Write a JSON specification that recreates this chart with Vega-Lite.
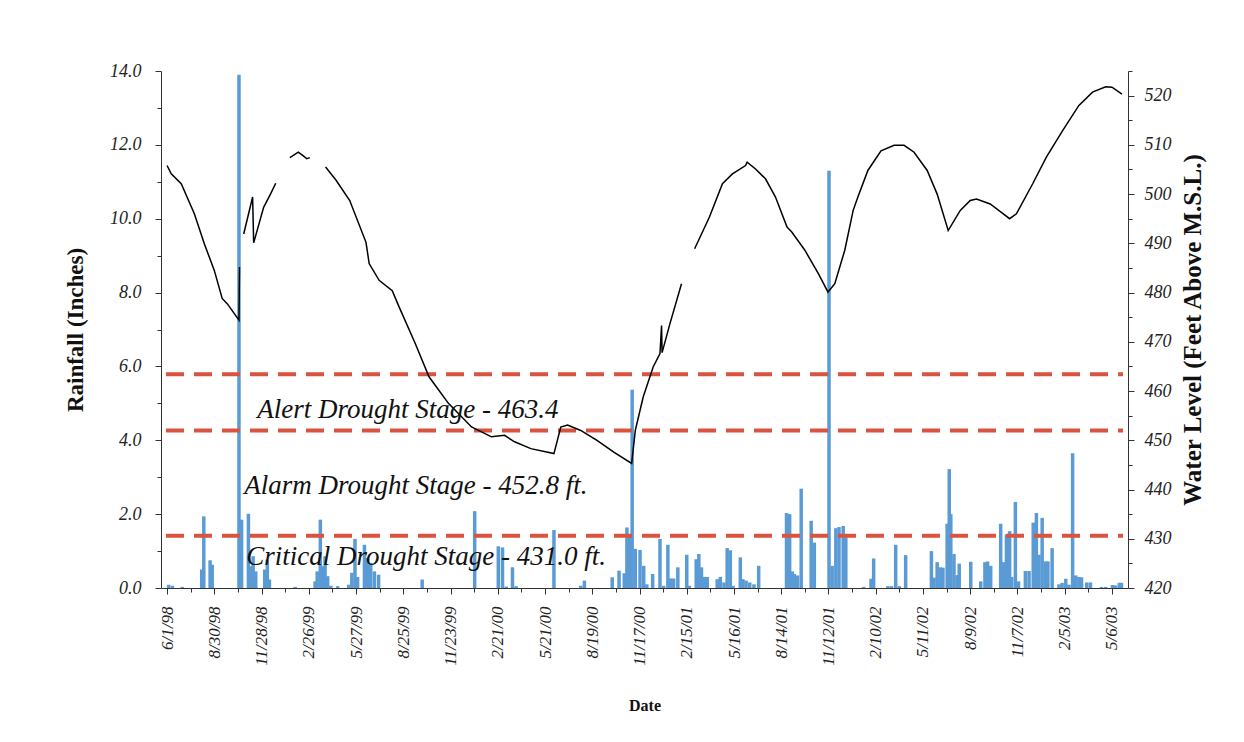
{
  "$schema": "https://vega.github.io/schema/vega-lite/v6.json",
  "width": 967,
  "height": 517,
  "autosize": "none",
  "padding": {"left": 161, "top": 71, "right": 116, "bottom": 154},
  "background": "white",
  "config": {
    "view": {"stroke": null},
    "font": "Liberation Serif",
    "axis": {
      "grid": false,
      "domain": true,
      "ticks": true,
      "labelFont": "Liberation Serif",
      "labelFontStyle": "italic",
      "labelFontSize": 18,
      "labelColor": "#222222",
      "titleFont": "Liberation Serif",
      "titleFontWeight": "bold",
      "titleColor": "#111111",
      "domainColor": "#333333",
      "tickColor": "#333333",
      "domainWidth": 1,
      "tickWidth": 1
    }
  },
  "datasets": {
    "rain": [
      {"date": "1998-06-04", "rain": 0.09}, {"date": "1998-06-11", "rain": 0.06}, {"date": "1998-06-30", "rain": 0.03},
      {"date": "1998-08-06", "rain": 0.5}, {"date": "1998-08-10", "rain": 1.94}, {"date": "1998-08-22", "rain": 0.75}, {"date": "1998-08-26", "rain": 0.63},
      {"date": "1998-10-16", "rain": 13.9}, {"date": "1998-10-21", "rain": 1.85}, {"date": "1998-11-03", "rain": 2.01}, {"date": "1998-11-07", "rain": 0.59}, {"date": "1998-11-12", "rain": 0.86}, {"date": "1998-11-17", "rain": 0.45},
      {"date": "1998-12-04", "rain": 0.5}, {"date": "1998-12-09", "rain": 0.77}, {"date": "1998-12-13", "rain": 0.23},
      {"date": "1999-01-31", "rain": 0.03},
      {"date": "1999-03-10", "rain": 0.18}, {"date": "1999-03-14", "rain": 0.45}, {"date": "1999-03-20", "rain": 1.85}, {"date": "1999-03-25", "rain": 0.59}, {"date": "1999-03-29", "rain": 0.86}, {"date": "1999-04-03", "rain": 0.32}, {"date": "1999-04-09", "rain": 0.06}, {"date": "1999-04-22", "rain": 0.05},
      {"date": "1999-05-13", "rain": 0.09}, {"date": "1999-05-19", "rain": 0.41}, {"date": "1999-05-25", "rain": 1.33}, {"date": "1999-05-30", "rain": 0.3}, {"date": "1999-06-12", "rain": 1.17}, {"date": "1999-06-18", "rain": 0.81}, {"date": "1999-06-24", "rain": 0.68}, {"date": "1999-07-01", "rain": 0.45}, {"date": "1999-07-09", "rain": 0.36},
      {"date": "1999-09-30", "rain": 0.23},
      {"date": "2000-01-08", "rain": 2.08},
      {"date": "2000-02-22", "rain": 1.13}, {"date": "2000-03-01", "rain": 1.1}, {"date": "2000-03-08", "rain": 0.04}, {"date": "2000-03-20", "rain": 0.56}, {"date": "2000-03-27", "rain": 0.05},
      {"date": "2000-06-07", "rain": 1.57},
      {"date": "2000-07-28", "rain": 0.06}, {"date": "2000-08-04", "rain": 0.2},
      {"date": "2000-09-26", "rain": 0.29}, {"date": "2000-10-09", "rain": 0.47}, {"date": "2000-10-19", "rain": 0.4}, {"date": "2000-10-24", "rain": 1.64}, {"date": "2000-10-29", "rain": 1.4}, {"date": "2000-11-03", "rain": 5.37}, {"date": "2000-11-09", "rain": 1.06}, {"date": "2000-11-18", "rain": 1.03}, {"date": "2000-11-25", "rain": 0.6}, {"date": "2000-12-01", "rain": 0.1},
      {"date": "2000-12-12", "rain": 0.38}, {"date": "2000-12-26", "rain": 1.33}, {"date": "2001-01-02", "rain": 0.06}, {"date": "2001-01-10", "rain": 1.17}, {"date": "2001-01-15", "rain": 0.26}, {"date": "2001-01-21", "rain": 0.26}, {"date": "2001-01-29", "rain": 0.56},
      {"date": "2001-02-15", "rain": 0.9}, {"date": "2001-02-20", "rain": 0.06}, {"date": "2001-03-05", "rain": 0.78}, {"date": "2001-03-10", "rain": 0.92}, {"date": "2001-03-15", "rain": 0.56}, {"date": "2001-03-21", "rain": 0.3}, {"date": "2001-03-26", "rain": 0.3},
      {"date": "2001-04-14", "rain": 0.24}, {"date": "2001-04-20", "rain": 0.3}, {"date": "2001-04-27", "rain": 0.15}, {"date": "2001-05-03", "rain": 1.08}, {"date": "2001-05-09", "rain": 1.02}, {"date": "2001-05-14", "rain": 0.06},
      {"date": "2001-05-28", "rain": 0.83}, {"date": "2001-06-02", "rain": 0.24}, {"date": "2001-06-08", "rain": 0.2}, {"date": "2001-06-15", "rain": 0.15}, {"date": "2001-06-23", "rain": 0.1}, {"date": "2001-07-02", "rain": 0.6},
      {"date": "2001-08-24", "rain": 2.03}, {"date": "2001-08-30", "rain": 2.0}, {"date": "2001-09-04", "rain": 0.45}, {"date": "2001-09-08", "rain": 0.38}, {"date": "2001-09-14", "rain": 0.34}, {"date": "2001-09-21", "rain": 2.69}, {"date": "2001-10-10", "rain": 1.82}, {"date": "2001-10-16", "rain": 1.23},
      {"date": "2001-11-13", "rain": 11.3}, {"date": "2001-11-19", "rain": 0.6}, {"date": "2001-11-26", "rain": 1.62}, {"date": "2001-12-02", "rain": 1.65}, {"date": "2001-12-10", "rain": 1.68}, {"date": "2001-12-15", "rain": 1.37},
      {"date": "2002-01-18", "rain": 0.03}, {"date": "2002-02-01", "rain": 0.25}, {"date": "2002-02-06", "rain": 0.8}, {"date": "2002-03-05", "rain": 0.05}, {"date": "2002-03-12", "rain": 0.05}, {"date": "2002-03-20", "rain": 1.17}, {"date": "2002-03-27", "rain": 0.05}, {"date": "2002-04-08", "rain": 0.89},
      {"date": "2002-05-27", "rain": 1.0}, {"date": "2002-06-01", "rain": 0.28}, {"date": "2002-06-07", "rain": 0.7}, {"date": "2002-06-13", "rain": 0.56}, {"date": "2002-06-18", "rain": 0.55}, {"date": "2002-06-26", "rain": 1.74}, {"date": "2002-06-30", "rain": 3.22}, {"date": "2002-07-03", "rain": 2.0}, {"date": "2002-07-09", "rain": 0.92}, {"date": "2002-07-15", "rain": 0.35}, {"date": "2002-07-19", "rain": 0.66},
      {"date": "2002-08-10", "rain": 0.71}, {"date": "2002-08-29", "rain": 0.18}, {"date": "2002-09-06", "rain": 0.7}, {"date": "2002-09-11", "rain": 0.72}, {"date": "2002-09-17", "rain": 0.6},
      {"date": "2002-10-06", "rain": 1.74}, {"date": "2002-10-11", "rain": 0.7}, {"date": "2002-10-17", "rain": 1.45}, {"date": "2002-10-23", "rain": 1.54}, {"date": "2002-10-27", "rain": 0.3}, {"date": "2002-11-03", "rain": 2.33}, {"date": "2002-11-09", "rain": 0.18},
      {"date": "2002-11-22", "rain": 0.46}, {"date": "2002-11-29", "rain": 0.46}, {"date": "2002-12-07", "rain": 1.77}, {"date": "2002-12-13", "rain": 2.03}, {"date": "2002-12-18", "rain": 0.9}, {"date": "2002-12-24", "rain": 1.9}, {"date": "2002-12-30", "rain": 0.72}, {"date": "2003-01-04", "rain": 0.72}, {"date": "2003-01-12", "rain": 1.08},
      {"date": "2003-01-25", "rain": 0.1}, {"date": "2003-01-31", "rain": 0.14}, {"date": "2003-02-07", "rain": 0.25}, {"date": "2003-02-13", "rain": 0.09}, {"date": "2003-02-20", "rain": 3.65}, {"date": "2003-02-26", "rain": 0.34}, {"date": "2003-03-04", "rain": 0.3}, {"date": "2003-03-09", "rain": 0.29},
      {"date": "2003-03-19", "rain": 0.15}, {"date": "2003-03-26", "rain": 0.15}, {"date": "2003-04-16", "rain": 0.03}, {"date": "2003-04-24", "rain": 0.03}, {"date": "2003-05-07", "rain": 0.08}, {"date": "2003-05-13", "rain": 0.07}, {"date": "2003-05-20", "rain": 0.14}, {"date": "2003-05-24", "rain": 0.14}
    ],
    "level": [
      {"seg": 1, "date": "1998-06-01", "level": 505.8}, {"seg": 1, "date": "1998-06-09", "level": 504.1}, {"seg": 1, "date": "1998-06-28", "level": 502.1}, {"seg": 1, "date": "1998-07-23", "level": 496.0}, {"seg": 1, "date": "1998-08-11", "level": 489.9}, {"seg": 1, "date": "1998-08-30", "level": 484.5}, {"seg": 1, "date": "1998-09-14", "level": 478.8}, {"seg": 1, "date": "1998-09-24", "level": 477.7}, {"seg": 1, "date": "1998-10-16", "level": 474.4}, {"seg": 1, "date": "1998-10-17", "level": 485.2},
      {"seg": 2, "date": "1998-10-25", "level": 491.9}, {"seg": 2, "date": "1998-11-11", "level": 499.4}, {"seg": 2, "date": "1998-11-13", "level": 490.1}, {"seg": 2, "date": "1998-12-02", "level": 497.3}, {"seg": 2, "date": "1998-12-15", "level": 500.0}, {"seg": 2, "date": "1998-12-25", "level": 502.2},
      {"seg": 3, "date": "1999-01-21", "level": 507.4}, {"seg": 3, "date": "1999-02-06", "level": 508.5}, {"seg": 3, "date": "1999-02-15", "level": 507.8}, {"seg": 3, "date": "1999-02-22", "level": 507.2}, {"seg": 3, "date": "1999-02-28", "level": 507.4},
      {"seg": 4, "date": "1999-03-30", "level": 505.5}, {"seg": 4, "date": "1999-04-19", "level": 502.8}, {"seg": 4, "date": "1999-05-15", "level": 498.7}, {"seg": 4, "date": "1999-06-15", "level": 490.2}, {"seg": 4, "date": "1999-06-21", "level": 485.9}, {"seg": 4, "date": "1999-07-10", "level": 482.5}, {"seg": 4, "date": "1999-08-04", "level": 480.4}, {"seg": 4, "date": "1999-08-17", "level": 477.1}, {"seg": 4, "date": "1999-09-17", "level": 469.6}, {"seg": 4, "date": "1999-10-13", "level": 462.9}, {"seg": 4, "date": "1999-11-19", "level": 457.5}, {"seg": 4, "date": "2000-01-02", "level": 452.7}, {"seg": 4, "date": "2000-02-09", "level": 450.7}, {"seg": 4, "date": "2000-03-05", "level": 451.0}, {"seg": 4, "date": "2000-03-24", "level": 449.7}, {"seg": 4, "date": "2000-04-24", "level": 448.3}, {"seg": 4, "date": "2000-06-07", "level": 447.3}, {"seg": 4, "date": "2000-06-20", "level": 452.7}, {"seg": 4, "date": "2000-07-03", "level": 453.1}, {"seg": 4, "date": "2000-07-28", "level": 452.0}, {"seg": 4, "date": "2000-08-28", "level": 450.0}, {"seg": 4, "date": "2000-09-29", "level": 447.6}, {"seg": 4, "date": "2000-11-02", "level": 445.3}, {"seg": 4, "date": "2000-11-09", "level": 452.0}, {"seg": 4, "date": "2000-11-24", "level": 458.8}, {"seg": 4, "date": "2000-12-13", "level": 464.9}, {"seg": 4, "date": "2000-12-26", "level": 467.6}, {"seg": 4, "date": "2000-12-29", "level": 473.3}, {"seg": 4, "date": "2000-12-30", "level": 467.8}, {"seg": 4, "date": "2001-01-14", "level": 473.7}, {"seg": 4, "date": "2001-02-05", "level": 481.8},
      {"seg": 5, "date": "2001-03-02", "level": 488.9}, {"seg": 5, "date": "2001-03-30", "level": 495.3}, {"seg": 5, "date": "2001-04-24", "level": 502.1}, {"seg": 5, "date": "2001-05-13", "level": 504.1}, {"seg": 5, "date": "2001-06-07", "level": 505.8}, {"seg": 5, "date": "2001-06-10", "level": 506.5}, {"seg": 5, "date": "2001-06-26", "level": 505.1}, {"seg": 5, "date": "2001-07-15", "level": 503.1}, {"seg": 5, "date": "2001-08-03", "level": 499.4}, {"seg": 5, "date": "2001-08-25", "level": 493.3}, {"seg": 5, "date": "2001-09-03", "level": 492.3}, {"seg": 5, "date": "2001-09-28", "level": 488.6}, {"seg": 5, "date": "2001-10-24", "level": 483.8}, {"seg": 5, "date": "2001-11-11", "level": 480.1}, {"seg": 5, "date": "2001-11-24", "level": 481.8}, {"seg": 5, "date": "2001-12-13", "level": 488.6}, {"seg": 5, "date": "2001-12-29", "level": 496.7}, {"seg": 5, "date": "2002-01-07", "level": 499.4}, {"seg": 5, "date": "2002-01-26", "level": 504.8}, {"seg": 5, "date": "2002-02-20", "level": 508.8}, {"seg": 5, "date": "2002-03-17", "level": 509.9}, {"seg": 5, "date": "2002-04-05", "level": 509.9}, {"seg": 5, "date": "2002-04-24", "level": 508.5}, {"seg": 5, "date": "2002-05-19", "level": 504.8}, {"seg": 5, "date": "2002-06-07", "level": 500.0}, {"seg": 5, "date": "2002-06-28", "level": 492.6}, {"seg": 5, "date": "2002-07-21", "level": 496.7}, {"seg": 5, "date": "2002-08-09", "level": 498.7}, {"seg": 5, "date": "2002-08-21", "level": 499.0}, {"seg": 5, "date": "2002-09-16", "level": 498.0}, {"seg": 5, "date": "2002-10-11", "level": 496.0}, {"seg": 5, "date": "2002-10-23", "level": 495.0}, {"seg": 5, "date": "2002-11-05", "level": 496.0}, {"seg": 5, "date": "2002-12-06", "level": 502.1}, {"seg": 5, "date": "2003-01-01", "level": 507.5}, {"seg": 5, "date": "2003-02-01", "level": 512.9}, {"seg": 5, "date": "2003-03-04", "level": 518.0}, {"seg": 5, "date": "2003-03-30", "level": 520.7}, {"seg": 5, "date": "2003-04-24", "level": 521.8}, {"seg": 5, "date": "2003-05-06", "level": 521.7}, {"seg": 5, "date": "2003-05-25", "level": 520.3}
    ],
    "stages": [
      {"date": "1998-05-30", "date2": "2003-05-27", "level": 463.4},
      {"date": "1998-05-30", "date2": "2003-05-27", "level": 452.0},
      {"date": "1998-05-30", "date2": "2003-05-27", "level": 430.6}
    ],
    "labels": [
      {"date": "1998-11-20", "level": 454.5, "text": "Alert Drought Stage - 463.4"},
      {"date": "1998-10-26", "level": 439.1, "text": "Alarm Drought Stage - 452.8 ft."},
      {"date": "1998-10-30", "level": 424.7, "text": "Critical Drought Stage - 431.0 ft."}
    ]
  },
  "layer": [
    {
      "data": {"name": "rain"},
      "mark": {"type": "bar", "width": 3.5, "color": "#5b9bd5"},
      "encoding": {
        "x": {
          "field": "date", "type": "temporal",
          "scale": {"type": "utc", "nice": false, "domain": [{"year": 1998, "month": 5, "date": 30, "utc": true}, {"year": 2003, "month": 5, "date": 27, "utc": true}]},
          "axis": {
            "title": "Date",
            "titleFontSize": 16,
            "titlePadding": 32,
            "labelAngle": 270,
            "labelPadding": 12,
            "labelOverlap": false,
            "labelFontSize": 17,
            "values": [896659200000, 900547200000, 904435200000, 908323200000, 912211200000, 916099200000, 919987200000, 923875200000, 927763200000, 931651200000, 935539200000, 939427200000, 943315200000, 947203200000, 951091200000, 954979200000, 958867200000, 962755200000, 966643200000, 970531200000, 974419200000, 978307200000, 982195200000, 986083200000, 989971200000, 993859200000, 997747200000, 1001635200000, 1005523200000, 1009411200000, 1013299200000, 1017187200000, 1021075200000, 1024963200000, 1028851200000, 1032739200000, 1036627200000, 1040515200000, 1044403200000, 1048291200000, 1052179200000],
            "labelExpr": "(round((+datum.value - 896659200000) / 86400000) % 90 === 0) ? utcFormat(datum.value, '%-m/%-d/%y') : ''",
            "tickSize": {"condition": {"test": "round((+datum.value - 896659200000) / 86400000) % 90 === 0", "value": 6}, "value": 4}
          }
        },
        "y": {
          "field": "rain", "type": "quantitative",
          "scale": {"domain": [0, 14], "nice": false, "zero": true},
          "axis": {
            "title": "Rainfall (Inches)",
            "titleFontSize": 23,
            "titlePadding": 22,
            "format": ".1f",
            "values": [0, 1, 2, 3, 4, 5, 6, 7, 8, 9, 10, 11, 12, 13, 14],
            "labelExpr": "datum.value % 2 === 0 ? datum.label : ''",
            "labelPadding": 14,
            "tickSize": {"condition": {"test": "datum.value % 2 === 0", "value": 6}, "value": 4}
          }
        }
      }
    },
    {
      "encoding": {
        "x": {
          "field": "date", "type": "temporal",
          "scale": {"type": "utc", "nice": false, "domain": [{"year": 1998, "month": 5, "date": 30, "utc": true}, {"year": 2003, "month": 5, "date": 27, "utc": true}]},
          "axis": {
            "title": "Date",
            "titleFontSize": 16,
            "titlePadding": 32,
            "labelAngle": 270,
            "labelPadding": 12,
            "labelOverlap": false,
            "labelFontSize": 17,
            "values": [896659200000, 900547200000, 904435200000, 908323200000, 912211200000, 916099200000, 919987200000, 923875200000, 927763200000, 931651200000, 935539200000, 939427200000, 943315200000, 947203200000, 951091200000, 954979200000, 958867200000, 962755200000, 966643200000, 970531200000, 974419200000, 978307200000, 982195200000, 986083200000, 989971200000, 993859200000, 997747200000, 1001635200000, 1005523200000, 1009411200000, 1013299200000, 1017187200000, 1021075200000, 1024963200000, 1028851200000, 1032739200000, 1036627200000, 1040515200000, 1044403200000, 1048291200000, 1052179200000],
            "labelExpr": "(round((+datum.value - 896659200000) / 86400000) % 90 === 0) ? utcFormat(datum.value, '%-m/%-d/%y') : ''",
            "tickSize": {"condition": {"test": "round((+datum.value - 896659200000) / 86400000) % 90 === 0", "value": 6}, "value": 4}
          }
        },
        "y": {
          "field": "level", "type": "quantitative",
          "scale": {"domain": [420, 525], "nice": false, "zero": false},
          "axis": {
            "orient": "right",
            "title": "Water Level (Feet Above M.S.L.)",
            "titleAngle": 270,
            "titleFontSize": 25,
            "titlePadding": 34,
            "values": [420, 425, 430, 435, 440, 445, 450, 455, 460, 465, 470, 475, 480, 485, 490, 495, 500, 505, 510, 515, 520, 525],
            "labelExpr": "datum.value % 10 === 0 ? datum.label : ''",
            "labelPadding": 10,
            "tickSize": {"condition": {"test": "datum.value % 10 === 0", "value": 6}, "value": 4}
          }
        }
      },
      "layer": [
        {
          "data": {"name": "stages"},
          "mark": {"type": "rule", "color": "#d9533e", "strokeWidth": 4, "strokeDash": [18, 10]},
          "encoding": {
            "x2": {"field": "date2"}
          }
        },
        {
          "data": {"name": "level"},
          "mark": {"type": "line", "color": "#000000", "strokeWidth": 1.5},
          "encoding": {
            "detail": {"field": "seg", "type": "nominal"}
          }
        },
        {
          "data": {"name": "labels"},
          "mark": {"type": "text", "align": "left", "baseline": "alphabetic", "font": "Liberation Serif", "fontStyle": "italic", "fontSize": 27, "color": "#111111"},
          "encoding": {
            "text": {"field": "text", "type": "nominal"}
          }
        }
      ]
    }
  ],
  "resolve": {"scale": {"y": "independent"}, "axis": {"y": "independent"}}
}
